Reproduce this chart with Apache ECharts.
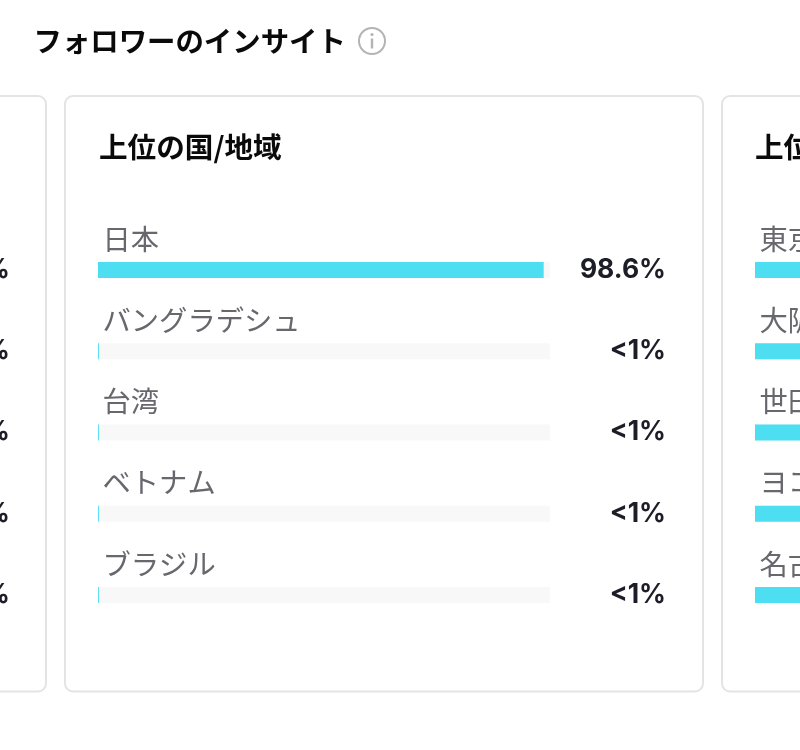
<!DOCTYPE html>
<html lang="ja">
<head>
<meta charset="utf-8">
<title>フォロワーのインサイト</title>
<style>
  html, body { margin: 0; padding: 0; background: #fff; }
  #chart { width: 800px; height: 750px; }
</style>
<script src="https://cdn.jsdelivr.net/npm/echarts@6/dist/echarts.min.js"></script>
</head>
<body>
<div id="chart"></div>
<script>
// Country card
const countries = ['日本', 'バングラデシュ', '台湾', 'ベトナム', 'ブラジル'];
const countryShares = [98.6, 0.2, 0.2, 0.2, 0.2];
const countryLabels = ['98.6%', '<1%', '<1%', '<1%', '<1%'];

// City card, running off the right edge
const cities = ['東京', '大阪', '世田谷', 'ヨコハマ', '名古屋'];
const cityShares = [30, 20, 15, 12, 11];

// Neighbouring card on the left: only the tail of its value labels shows
const leftLabels = ['%', '%', '%', '%', '%'];

const sansFont = '"Noto Sans CJK JP", "Noto Sans", sans-serif';
const numberFont = 'Inter, "Noto Sans CJK JP", sans-serif';
const barColor = '#4ddef1';
const trackColor = '#f8f8f8';

const cardOutline = { stroke: '#e4e4e6', lineWidth: 2, fill: '#fff' };
const bandTop = 229.4;
const bandBlock = 406.25;
const gridWidth = 452;
const leftGrid = -558;
const mainGrid = 98;
const rightGrid = 755;

function gridAt(left) {
  // Cards overflow the canvas on purpose, so the grid must keep its exact rectangle
  return { left, top: bandTop, width: gridWidth, height: bandBlock, outerBoundsMode: 'none' };
}

function hiddenValueAxis(gridIndex) {
  return { type: 'value', gridIndex, min: 0, max: 100, show: false };
}

function nameAxis(gridIndex, names) {
  return {
    type: 'category', gridIndex, data: names, inverse: true, position: 'left',
    axisLine: { show: false }, axisTick: { show: false },
    axisLabel: {
      inside: true, margin: 4.5, color: '#67676d', fontSize: 28.3,
      fontFamily: sansFont, align: 'left', verticalAlign: 'bottom',
      padding: [0, 0, 17, 0], interval: 0
    }
  };
}

function valueLabelAxis(gridIndex, labels, margin) {
  return {
    type: 'category', gridIndex, data: labels, inverse: true, position: 'right',
    axisLine: { show: false }, axisTick: { show: false },
    axisLabel: {
      margin, color: '#1d1d28', fontSize: 26.5, fontWeight: 'bold',
      fontFamily: numberFont, align: 'right', interval: 0,
      padding: [4, 0, 0, 0]
    }
  };
}

function barSeries(xAxisIndex, yAxisIndex, data) {
  return {
    type: 'bar', xAxisIndex, yAxisIndex, data, barWidth: 16, silent: true,
    itemStyle: { color: barColor },
    showBackground: true,
    backgroundStyle: { color: trackColor },
    animation: false
  };
}

const chart = echarts.init(document.getElementById('chart'), null, { renderer: 'canvas' });
chart.setOption({
  animation: false,
  backgroundColor: '#ffffff',
  grid: [gridAt(mainGrid), gridAt(rightGrid), gridAt(leftGrid)],
  xAxis: [hiddenValueAxis(0), hiddenValueAxis(1), hiddenValueAxis(2)],
  yAxis: [
    nameAxis(0, countries),
    valueLabelAxis(0, countryLabels, 116),
    nameAxis(1, cities),
    valueLabelAxis(2, leftLabels, 116)
  ],
  series: [
    barSeries(0, 0, countryShares),
    barSeries(0, 1, []),
    barSeries(1, 2, cityShares),
    barSeries(2, 3, [])
  ],
  graphic: [
    // Card frames
    { type: 'rect', z: -10, shape: { x: -100, y: 96, width: 146, height: 595.5, r: 8 }, style: cardOutline },
    { type: 'rect', z: -10, shape: { x: 65, y: 96, width: 638, height: 595.5, r: 8 }, style: cardOutline },
    { type: 'rect', z: -10, shape: { x: 722, y: 96, width: 300, height: 595.5, r: 8 }, style: cardOutline },
    // Headings
    { type: 'text', x: 33.5, y: 41, style: { text: 'フォロワーのインサイト', fill: '#0a0a0a', font: 'bold 28.4px ' + sansFont, textVerticalAlign: 'middle' } },
    { type: 'text', x: 99, y: 147, style: { text: '上位の国/地域', fill: '#0a0a0a', font: 'bold 28.6px ' + sansFont, textVerticalAlign: 'middle' } },
    { type: 'text', x: 755, y: 147, style: { text: '上位の都市', fill: '#0a0a0a', font: 'bold 28.6px ' + sansFont, textVerticalAlign: 'middle' } },
    // Info icon beside the main heading
    { type: 'circle', shape: { cx: 372, cy: 41, r: 13 }, style: { fill: 'none', stroke: '#b4b4b4', lineWidth: 2 } },
    { type: 'circle', shape: { cx: 372, cy: 34.5, r: 1.6 }, style: { fill: '#b4b4b4' } },
    { type: 'rect', shape: { x: 370.8, y: 38.5, width: 2.4, height: 10 }, style: { fill: '#b4b4b4' } }
  ]
});
</script>
</body>
</html>
